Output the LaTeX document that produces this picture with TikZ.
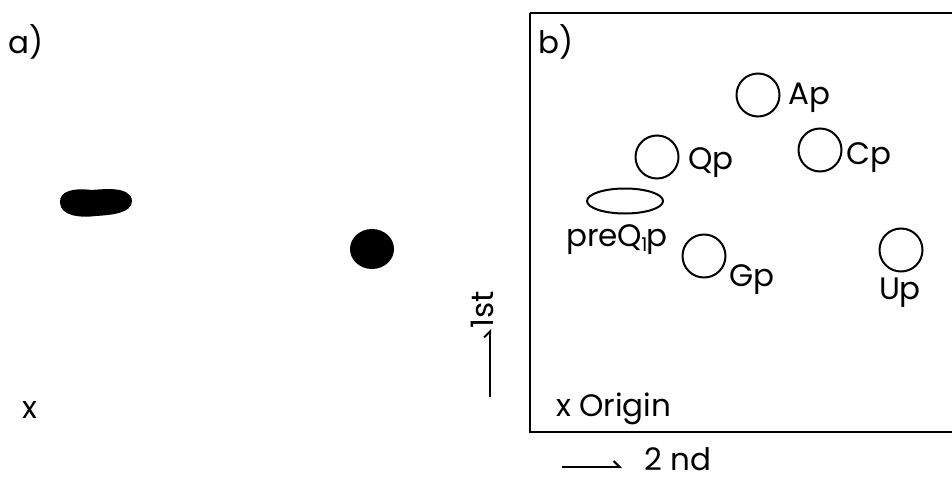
\documentclass[tikz,border=0pt]{standalone}
\usepackage{fontspec}
\setmainfont{Poppins}
\usetikzlibrary{arrows.meta,shapes.geometric}
\begin{document}
\begin{tikzpicture}[x=1pt,y=-1pt,
  spot/.style={draw, line width=2pt, circle, minimum size=43pt, inner sep=0pt},
  lab/.style={font=\fontsize{31}{31}\selectfont, inner sep=0pt},
  harp/.style={line width=2pt, -{Straight Barb[left, length=6pt, width=12pt]}}]
\useasboundingbox (0,0) rectangle (952,481);
\fill[white] (0,0) rectangle (952,481);
\clip (0,0) rectangle (952,481);
% panel a
\node[lab, anchor=west] (la) at (8,42) {a)};
\node[lab] (xa) at (30,410) {x};
\fill (60,203) .. controls (59,190) and (75,188) .. (92,190) .. controls (104,189) and (131,186) .. (132,201)
  .. controls (132,213) and (112,215) .. (96,216) .. controls (80,218) and (61,216) .. (60,203) -- cycle;
\fill (372,249) ellipse [x radius=22, y radius=20];
% panel b
\draw[line width=2pt] (530,13) -- (960,13);
\draw[line width=2pt] (530,13) -- (530,432) -- (960,432);
\node[lab, anchor=west] (lb) at (538,42) {b)};
\node[spot] (ap) at (758,95) {};
\node[lab, anchor=west] (apl) at (788,98) {Ap};
\node[spot] (qp) at (657,157) {};
\node[lab, anchor=west] (qpl) at (688,163) {Qp};
\node[spot] (cp) at (820,150) {};
\node[lab, anchor=west] (cpl) at (846,158) {Cp};
\node[spot] (gp) at (704,256) {};
\node[lab, anchor=west] (gpl) at (729,280) {Gp};
\node[spot] (up) at (901,250) {};
\node[lab] (upl) at (900,293) {Up};
\node[draw, line width=2pt, ellipse, minimum width=76pt, minimum height=25pt, inner sep=0pt] (pq) at (625,201) {};
\node[lab, anchor=west] (pql) at (566,240) {preQ\kern-1pt\raisebox{-5pt}{\fontsize{19}{19}\selectfont 1}\kern-1pt p};
\node[lab, anchor=west] (orl) at (556,409) {x Origin};
% axes
\coordinate (v0) at (490,397);
\coordinate (v1) at (490,329);
\draw[harp] (v0) -- (v1);
\node[lab, rotate=90] (first) at (482,310) {1st};
\coordinate (h0) at (562,467);
\coordinate (h1) at (622,467);
\draw[harp] (h0) -- (h1);
\node[lab, anchor=west] (second) at (644,459) {2 nd};
\end{tikzpicture}
\end{document}
